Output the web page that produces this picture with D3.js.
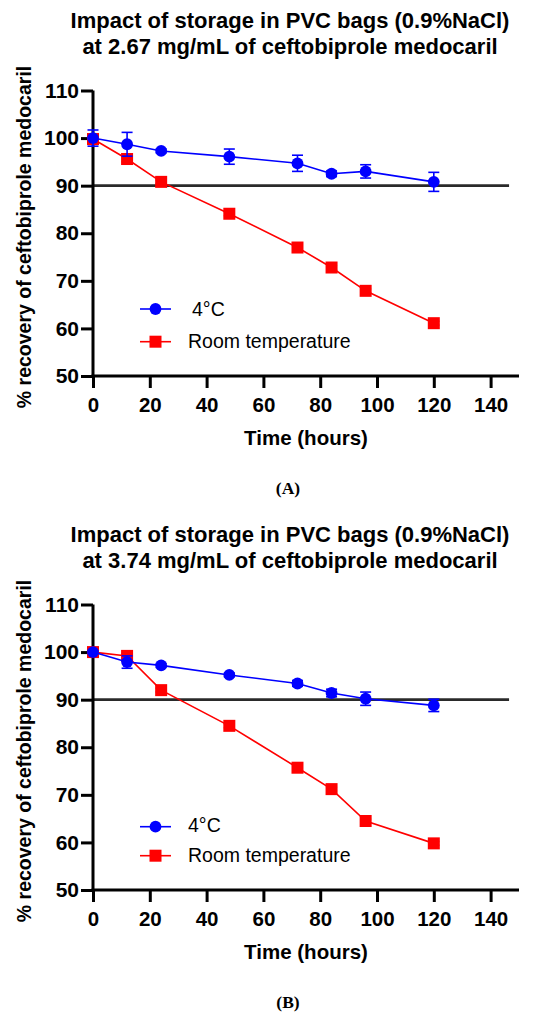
<!DOCTYPE html>
<html>
<head>
<meta charset="utf-8">
<script src="https://cdn.jsdelivr.net/npm/d3@7"></script>
<style>
  html, body { margin: 0; padding: 0; background: #fff; }
  svg { display: block; }
</style>
</head>
<body>
<svg id="chart" width="550" height="1016"></svg>
<script>
// ---------- data ----------
const hours = [0, 12, 24, 48, 72, 84, 96, 120];
const xTicks = [0, 20, 40, 60, 80, 100, 120, 140];
const yTicks = [50, 60, 70, 80, 90, 100, 110];
const seriesNames = ["4°C", "Room temperature"];
const titleLine1 = "Impact of storage in PVC bags (0.9%NaCl)";
const titleLine2A = "at 2.67 mg/mL of ceftobiprole medocaril";
const titleLine2B = "at 3.74 mg/mL of ceftobiprole medocaril";
const xLabel = "Time (hours)";
const yLabel = "% recovery of ceftobiprole medocaril";
const limitValue = 90;

// Panel A (2.67 mg/mL)
const coldA    = [100, 98.7, 97.3, 96.1, 94.7, 92.5, 93.0, 90.8];
const coldErrA = [1.7, 2.5, 0.4, 1.6, 1.7, 0.6, 1.4, 2.0];
const roomA    = [99.8, 95.6, 90.8, 84.1, 77.0, 72.8, 67.9, 61.1];
const roomErrA = [0.5, 0.6, 0.4, 0.4, 0.4, 0.4, 0.4, 0.4];

// Panel B (3.74 mg/mL)
const coldB    = [100, 97.9, 97.2, 95.2, 93.4, 91.4, 90.2, 88.8];
const coldErrB = [0.3, 1.3, 0.4, 0.4, 0.6, 0.8, 1.4, 1.3];
const roomB    = [100, 99.2, 92.0, 84.5, 75.7, 71.2, 64.5, 59.8];
const roomErrB = [0.3, 0.4, 0.4, 0.4, 0.4, 0.4, 0.4, 0.4];

// ---------- drawing ----------
const svg = d3.select("#chart");
const SANS = "'Liberation Sans', Arial, Helvetica, sans-serif";
const SERIF = "'Liberation Serif', 'Times New Roman', serif";
const BLUE = "#0000ff", RED = "#ff0000";

const panels = [
  { offset: 0, title2: titleLine2A, cold: coldA, coldErr: coldErrA, room: roomA, roomErr: roomErrA,
    caption: "(A)", legY: [309, 341.7], legTextX: [192, 188], legTextDy: [6.7, 6.3] },
  { offset: 514, title2: titleLine2B, cold: coldB, coldErr: coldErrB, room: roomB, roomErr: roomErrB,
    caption: "(B)", legY: [312.7, 341.7], legTextX: [188, 188], legTextDy: [5, 6.6] }
];

const x = d3.scaleLinear().domain([0, 150]).range([93, 519]);
const y = d3.scaleLinear().domain([50, 110]).range([376, 90.5]);

panels.forEach(p => {
  const g = svg.append("g").attr("transform", `translate(0,${p.offset})`);

  // title
  const t = g.append("text").attr("x", 290).attr("text-anchor", "middle")
    .attr("font-family", SANS).attr("font-weight", "bold").attr("font-size", 22).attr("fill", "#000");
  t.append("tspan").attr("x", 290).attr("y", 27.5).text(titleLine1);
  t.append("tspan").attr("x", 290).attr("y", 53.5).text(p.title2);

  // y label
  g.append("text")
    .attr("transform", `translate(31,237) rotate(-90)`)
    .attr("text-anchor", "middle")
    .attr("font-family", SANS).attr("font-weight", "bold").attr("font-size", 19.5)
    .text(yLabel);

  // limit line
  g.append("line")
    .attr("x1", x(0)).attr("x2", x(146.5))
    .attr("y1", y(limitValue)).attr("y2", y(limitValue))
    .attr("stroke", "#2a2a2a").attr("stroke-width", 2.7);

  // axes
  const yAxis = g.append("g").attr("transform", `translate(${x(0)},0)`)
    .call(d3.axisLeft(y).tickValues(yTicks).tickSize(12).tickSizeOuter(0).tickPadding(2));
  const xAxis = g.append("g").attr("transform", `translate(0,${y(50)})`)
    .call(d3.axisBottom(x).tickValues(xTicks).tickSize(12).tickSizeOuter(0).tickPadding(9));
  [xAxis, yAxis].forEach(a => {
    a.select(".domain").attr("stroke", "#000").attr("stroke-width", 3);
    a.selectAll(".tick line").attr("stroke", "#000").attr("stroke-width", 3);
    a.selectAll(".tick text").attr("font-family", SANS).attr("font-weight", "bold")
      .attr("fill", "#000");
  });
  yAxis.selectAll(".tick text").attr("font-size", 21);
  xAxis.selectAll(".tick text").attr("font-size", 20.5);
  // extend y axis down so it joins the x-axis tick below 0
  yAxis.select(".domain").attr("d", `M0,${y(110)}V${y(50) + 1.5}`);
  xAxis.select(".domain").attr("d", `M${x(0) - 1.5},0H${x(150)}`);

  // x label
  g.append("text").attr("x", x(75)).attr("y", 445).attr("text-anchor", "middle")
    .attr("font-family", SANS).attr("font-weight", "bold").attr("font-size", 20.5)
    .text(xLabel);

  // caption
  g.append("text").attr("x", 288).attr("y", 494).attr("text-anchor", "middle")
    .attr("font-family", SERIF).attr("font-weight", "bold").attr("font-size", 17.5)
    .text(p.caption);

  const line = d3.line().x((d, i) => x(hours[i])).y(d => y(d));

  function drawErr(vals, errs, color) {
    const eg = g.append("g").attr("stroke", color).attr("stroke-width", 1.6);
    vals.forEach((v, i) => {
      const cx = x(hours[i]);
      eg.append("line").attr("x1", cx).attr("x2", cx).attr("y1", y(v - errs[i])).attr("y2", y(v + errs[i]));
      [v - errs[i], v + errs[i]].forEach(e => {
        eg.append("line").attr("x1", cx - 5.5).attr("x2", cx + 5.5).attr("y1", y(e)).attr("y2", y(e));
      });
    });
  }

  // room temperature series (drawn first)
  drawErr(p.room, p.roomErr, RED);
  g.append("path").datum(p.room).attr("d", line).attr("fill", "none")
    .attr("stroke", RED).attr("stroke-width", 1.6);
  g.selectAll(".sq").data(p.room).enter().append("rect")
    .attr("x", (d, i) => x(hours[i]) - 6).attr("y", d => y(d) - 6)
    .attr("width", 12).attr("height", 12).attr("fill", RED);

  // 4°C series
  drawErr(p.cold, p.coldErr, BLUE);
  g.append("path").datum(p.cold).attr("d", line).attr("fill", "none")
    .attr("stroke", BLUE).attr("stroke-width", 1.6);
  g.selectAll(".ci").data(p.cold).enter().append("circle")
    .attr("cx", (d, i) => x(hours[i])).attr("cy", d => y(d))
    .attr("r", 5.9).attr("fill", BLUE);

  // legend
  const lg = g.append("g");
  [[BLUE, "circle"], [RED, "square"]].forEach(([col, shape], k) => {
    const ly = p.legY[k];
    lg.append("line").attr("x1", 140).attr("x2", 171).attr("y1", ly).attr("y2", ly)
      .attr("stroke", col).attr("stroke-width", 1.6);
    if (shape === "circle") {
      lg.append("circle").attr("cx", 155.5).attr("cy", ly).attr("r", 5.9).attr("fill", col);
    } else {
      lg.append("rect").attr("x", 149.5).attr("y", ly - 6).attr("width", 12).attr("height", 12).attr("fill", col);
    }
    lg.append("text").attr("x", p.legTextX[k]).attr("y", ly + p.legTextDy[k])
      .attr("font-family", SANS).attr("font-size", 19.5).attr("fill", "#000")
      .text(seriesNames[k]);
  });
});
</script>
</body>
</html>
